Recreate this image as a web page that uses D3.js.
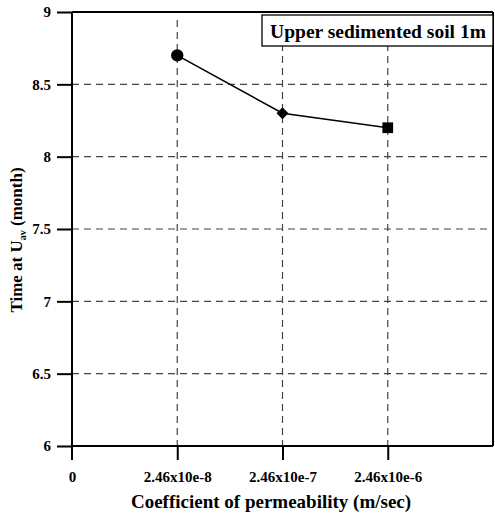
<!DOCTYPE html>
<html>
<head>
<meta charset="utf-8">
<script src="https://d3js.org/d3.v7.min.js"></script>
<style>
  body { margin: 0; background: #fff; }
  svg, svg text { font-family: "Liberation Serif", "Times New Roman", serif; font-weight: bold; }
</style>
</head>
<body>
<div id="chart"></div>
<script>
// data
var categories = ["2.46x10e-8", "2.46x10e-7", "2.46x10e-6"];
var timeValues = [8.7, 8.3, 8.2];
var markers = ["circle", "diamond", "square"];
var yTicks = [6, 6.5, 7, 7.5, 8, 8.5, 9];

var width = 495, height = 518;
var margin = { top: 12, right: 2, bottom: 72, left: 72 };
var plotW = width - margin.left - margin.right;
var plotH = height - margin.top - margin.bottom;

var svg = d3.select("#chart").append("svg")
  .attr("width", width)
  .attr("height", height);

var g = svg.append("g")
  .attr("transform", "translate(" + margin.left + "," + margin.top + ")");

// x is index based: 0 at origin then one step per category
var x = d3.scaleLinear().domain([0, 4]).range([0, plotW]);
var y = d3.scaleLinear().domain([6, 9]).range([plotH, 0]);

// grid
g.selectAll(".hgrid")
  .data(yTicks.filter(function (d) { return d > 6 && d < 9; }))
  .enter().append("line")
  .attr("x1", 0).attr("x2", plotW)
  .attr("y1", function (d) { return y(d); })
  .attr("y2", function (d) { return y(d); })
  .attr("stroke", "#444").attr("stroke-width", 1.2)
  .attr("stroke-dasharray", "7,5");

g.selectAll(".vgrid")
  .data(categories)
  .enter().append("line")
  .attr("x1", function (d, i) { return x(i + 1); })
  .attr("x2", function (d, i) { return x(i + 1); })
  .attr("y1", 8).attr("y2", plotH)
  .attr("stroke", "#444").attr("stroke-width", 1.2)
  .attr("stroke-dasharray", "7,5");

// frame (top and right)
g.append("line").attr("x1", 0).attr("x2", plotW).attr("y1", 0).attr("y2", 0)
  .attr("stroke", "#000").attr("stroke-width", 2);
g.append("line").attr("x1", plotW).attr("x2", plotW).attr("y1", 0).attr("y2", plotH)
  .attr("stroke", "#000").attr("stroke-width", 2);

// axes
var yAxis = d3.axisLeft(y).tickValues(yTicks).tickSize(15).tickPadding(6)
  .tickFormat(function (d) { return d; });
var yG = g.append("g").call(yAxis);

var xAxis = d3.axisBottom(x).tickValues([0, 1, 2, 3]).tickSize(14).tickPadding(11)
  .tickFormat(function (d) { return d === 0 ? "0" : categories[d - 1]; });
var xG = g.append("g").attr("transform", "translate(0," + plotH + ")").call(xAxis);

[yG, xG].forEach(function (a) {
  a.attr("font-family", null).attr("font-size", null);
  a.select(".domain").remove();
  a.selectAll(".tick line").attr("stroke", "#000").attr("stroke-width", 2);
  a.selectAll(".tick text").attr("fill", "#000")
    .style("font-size", "15px").style("font-weight", "bold");
});
xG.selectAll(".tick").filter(function (d) { return d === 0; }).select("line").remove();

g.append("line").attr("x1", 0).attr("x2", 0).attr("y1", 0).attr("y2", plotH + 14)
  .attr("stroke", "#000").attr("stroke-width", 2);
g.append("line").attr("x1", 0).attr("x2", plotW).attr("y1", plotH).attr("y2", plotH)
  .attr("stroke", "#000").attr("stroke-width", 2);

// data line
var line = d3.line()
  .x(function (d, i) { return x(i + 1); })
  .y(function (d) { return y(d); });
g.append("path").datum(timeValues)
  .attr("d", line)
  .attr("fill", "none").attr("stroke", "#000").attr("stroke-width", 1.6);

// diamond = square turned 45 degrees
var symbolSize = { circle: 120, diamond: 72, square: 115 };
g.selectAll(".pt")
  .data(timeValues)
  .enter().append("path")
  .attr("transform", function (d, i) {
    var t = "translate(" + x(i + 1) + "," + y(d) + ")";
    return markers[i] === "diamond" ? t + " rotate(45)" : t;
  })
  .attr("d", function (d, i) {
    var type = markers[i] === "circle" ? d3.symbolCircle : d3.symbolSquare;
    return d3.symbol().type(type).size(symbolSize[markers[i]])();
  })
  .attr("fill", "#000");

// legend box
var lg = g.append("g").attr("transform", "translate(" + (plotW - 231) + ",3)");
lg.append("rect").attr("width", 231).attr("height", 31)
  .attr("fill", "#fff").attr("stroke", "#000").attr("stroke-width", 1.3);
lg.append("text").attr("x", 116).attr("y", 23).attr("text-anchor", "middle")
  .style("font-size", "19.5px").text("Upper sedimented soil 1m");

// axis titles
svg.append("text")
  .attr("x", 271).attr("y", 508)
  .attr("text-anchor", "middle")
  .style("font-size", "19px")
  .text("Coefficient of permeability (m/sec)");

var yt = svg.append("text")
  .attr("transform", "translate(22,240) rotate(-90)")
  .attr("text-anchor", "middle")
  .style("font-size", "17px");
yt.append("tspan").text("Time at U");
yt.append("tspan").attr("dy", 4).style("font-size", "10px").text("av");
yt.append("tspan").attr("dy", -4).text(" (month)");
</script>
</body>
</html>
